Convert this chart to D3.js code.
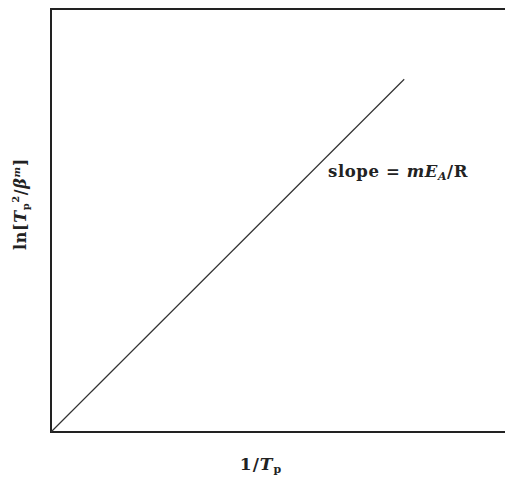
<!DOCTYPE html>
<html>
<head>
<meta charset="utf-8">
<script src="https://cdn.jsdelivr.net/npm/d3@7"></script>
<style>
  html, body { margin: 0; padding: 0; background: #fff; }
  svg { display: block; }
  text { font-family: "DejaVu Serif", "Liberation Serif", serif; font-weight: bold; fill: #222; }
</style>
</head>
<body>
<svg id="chart" width="505" height="479"></svg>
<script>
// Kissinger-type plot: ln[Tp^2/beta^m] versus 1/Tp (schematic, unitless)
const invTp = [0, 0.778];
const lnRatio = [0, 0.834];
const xDomain = [0, 1];
const yDomain = [0, 1];

const svg = d3.select("#chart");
const W = 505, H = 479;
const margin = { left: 51, top: 9, right: 0, bottom: 47 };

const x = d3.scaleLinear().domain(xDomain).range([margin.left, W - margin.right]);
const y = d3.scaleLinear().domain(yDomain).range([H - margin.bottom, margin.top]);

// Frame: left, bottom and top edges
svg.append("path")
  .attr("d", `M${x(1)},${y(1)} H${x(0)} V${y(0)} H${x(1)}`)
  .attr("fill", "none")
  .attr("stroke", "#222")
  .attr("stroke-width", 2);

// Straight-line fit
const line = d3.line().x((d, i) => x(invTp[i])).y((d, i) => y(lnRatio[i]));
svg.append("path")
  .datum(invTp)
  .attr("d", line)
  .attr("fill", "none")
  .attr("stroke", "#333")
  .attr("stroke-width", 1.2);

// Slope annotation
const ann = svg.append("text").attr("x", 328).attr("y", 177).attr("font-size", 16.5).attr("letter-spacing", 0.6);
ann.append("tspan").text("slope = ");
ann.append("tspan").attr("font-style", "italic").text("mE");
ann.append("tspan").attr("font-style", "italic").attr("font-size", 11).attr("dy", 3).text("A");
ann.append("tspan").attr("dy", -3).text("/R");

// X axis title
const xt = svg.append("text")
  .attr("x", 261)
  .attr("y", 470)
  .attr("text-anchor", "middle")
  .attr("font-size", 17)
  .attr("letter-spacing", 1);
xt.append("tspan").text("1/");
xt.append("tspan").attr("font-style", "italic").text("T");
xt.append("tspan").attr("font-size", 11).attr("dy", 3).text("p");

// Y axis title
const yt = svg.append("text")
  .attr("transform", "translate(26,204) rotate(-90)")
  .attr("text-anchor", "middle")
  .attr("font-size", 16)
  .attr("letter-spacing", 0.6);
yt.append("tspan").text("ln[");
yt.append("tspan").attr("font-style", "italic").text("T");
yt.append("tspan").attr("font-size", 10).attr("dy", 3).text("p");
yt.append("tspan").attr("font-size", 10).attr("dy", -10).text("2");
yt.append("tspan").attr("dy", 7).text("/");
yt.append("tspan").attr("font-style", "italic").text("β");
yt.append("tspan").attr("font-style", "italic").attr("font-size", 10).attr("dy", -6).text("m");
yt.append("tspan").attr("dy", 6).text("]");
</script>
</body>
</html>
